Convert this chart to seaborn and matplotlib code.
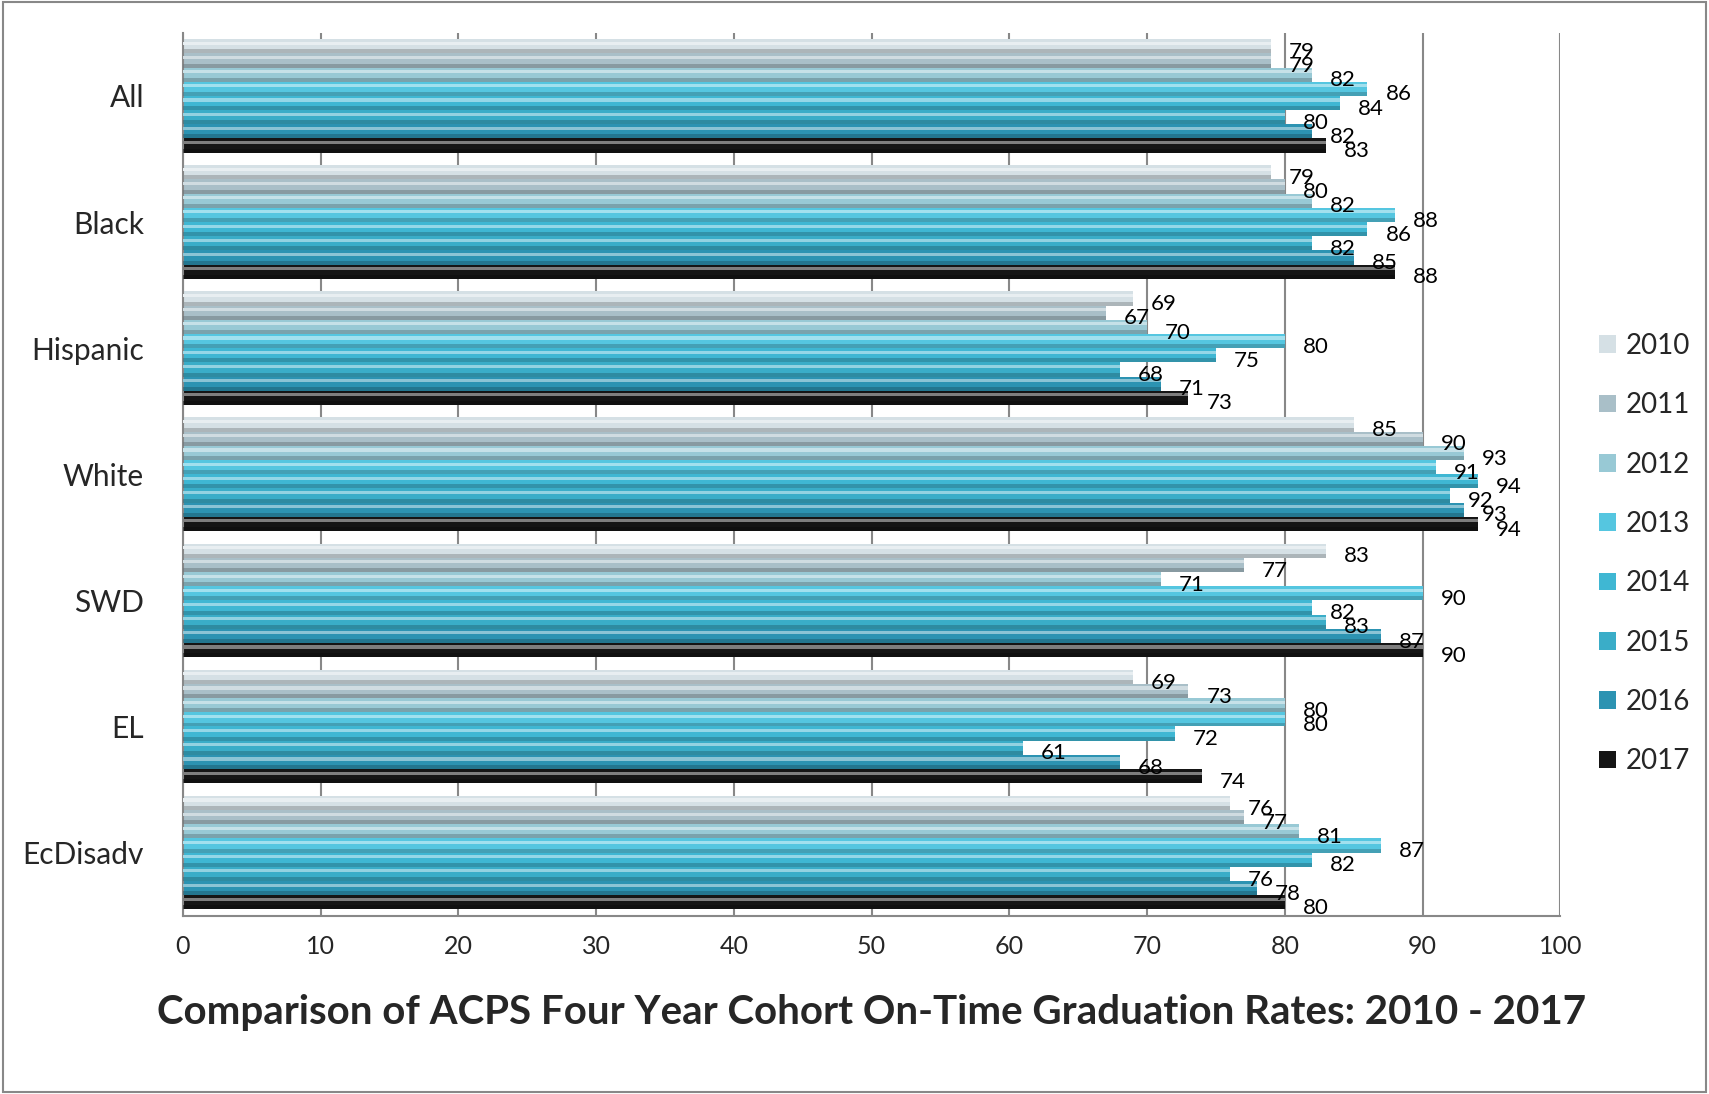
import matplotlib
matplotlib.use("Agg")
import matplotlib.pyplot as plt
import matplotlib.colors as mcolors
from matplotlib.patches import Rectangle
import seaborn as sns
import pandas as pd

# chart values
groups = ["All", "Black", "Hispanic", "White", "SWD", "EL", "EcDisadv"]
years = ["2010", "2011", "2012", "2013", "2014", "2015", "2016", "2017"]
rates = {
    "All":      [79, 79, 82, 86, 84, 80, 82, 83],
    "Black":    [79, 80, 82, 88, 86, 82, 85, 88],
    "Hispanic": [69, 67, 70, 80, 75, 68, 71, 73],
    "White":    [85, 90, 93, 91, 94, 92, 93, 94],
    "SWD":      [83, 77, 71, 90, 82, 83, 87, 90],
    "EL":       [69, 73, 80, 80, 72, 61, 68, 74],
    "EcDisadv": [76, 77, 81, 87, 82, 76, 78, 80],
}
colors = ["#d5e0e5", "#a9bfc8", "#98c9d5", "#55c6e0", "#3fb7d3",
          "#3aadc8", "#2c93b2", "#151515"]

rows = []
for g in groups:
    for y, v in zip(years, rates[g]):
        rows.append({"group": g, "year": y, "rate": v})
df = pd.DataFrame(rows)

sns.set_style("white")
plt.rcParams["font.family"] = ["Lato", "DejaVu Sans"]

fig = plt.figure(figsize=(17.09, 10.94), dpi=100)
ax = fig.add_axes([0.107, 0.163, 0.806, 0.807])

sns.barplot(data=df, x="rate", y="group", hue="year", order=groups,
            hue_order=years, palette=colors, orient="h", width=0.9,
            errorbar=None, ax=ax, legend=True, saturation=1, linewidth=0)

# glossy shading + value label on each bar
for cont, col in zip(ax.containers, colors):
    base = mcolors.to_rgb(col)
    light = tuple(c + (1 - c) * 0.45 for c in base)
    dark = tuple(c * 0.62 for c in base)
    for bar in cont:
        x0, y0 = bar.get_x(), bar.get_y()
        w, h = bar.get_width(), bar.get_height()
        ax.add_patch(Rectangle((x0, y0 + h * 0.18), w, h * 0.22,
                               color=light, lw=0, zorder=3))
        ax.add_patch(Rectangle((x0, y0 + h * 0.72), w, h * 0.28,
                               color=dark, lw=0, zorder=3, alpha=0.5))
        ax.text(w + 1.3, y0 + h * 0.9, f"{w:.0f}", fontsize=16,
                color="black", va="center", ha="left", zorder=5)

ax.set_xlim(0, 100)
ax.set_xticks(range(0, 101, 10))
ax.set_ylim(len(groups) - 0.5, -0.5)
ax.set_yticks(range(len(groups)))
ax.set_yticklabels(groups)
ax.set_yticks([i + 0.5 for i in range(-1, len(groups))], minor=True)
ax.tick_params(axis="y", which="major", length=0, labelsize=21.5, pad=28)
ax.tick_params(axis="y", which="minor", length=8, color="#888888", width=1.2)
ax.tick_params(axis="x", labelsize=18, length=8, color="#888888", width=1.2, pad=6)
ax.xaxis.grid(True, color="#888888", lw=1.5)
ax.set_axisbelow(True)
for s in ["top", "right"]:
    ax.spines[s].set_visible(False)
for s in ["left", "bottom"]:
    ax.spines[s].set_color("#888888")
    ax.spines[s].set_linewidth(1.5)
ax.set_ylabel("")
ax.set_xlabel("Comparison of ACPS Four Year Cohort On-Time Graduation Rates: 2010 - 2017",
              fontsize=29, fontweight="bold", labelpad=26)

handles, labels = ax.get_legend_handles_labels()
ax.legend(handles, labels, loc="center left", bbox_to_anchor=(1.01, 0.41),
          frameon=False, fontsize=20, labelspacing=1.2, handlelength=0.6,
          handleheight=0.6, handletextpad=0.35)

fig.patches.append(Rectangle((0.002, 0.002), 0.996, 0.996, transform=fig.transFigure,
                             fill=False, edgecolor="#888888", lw=1.5))

fig.savefig("out.png", dpi=100, facecolor="white")
